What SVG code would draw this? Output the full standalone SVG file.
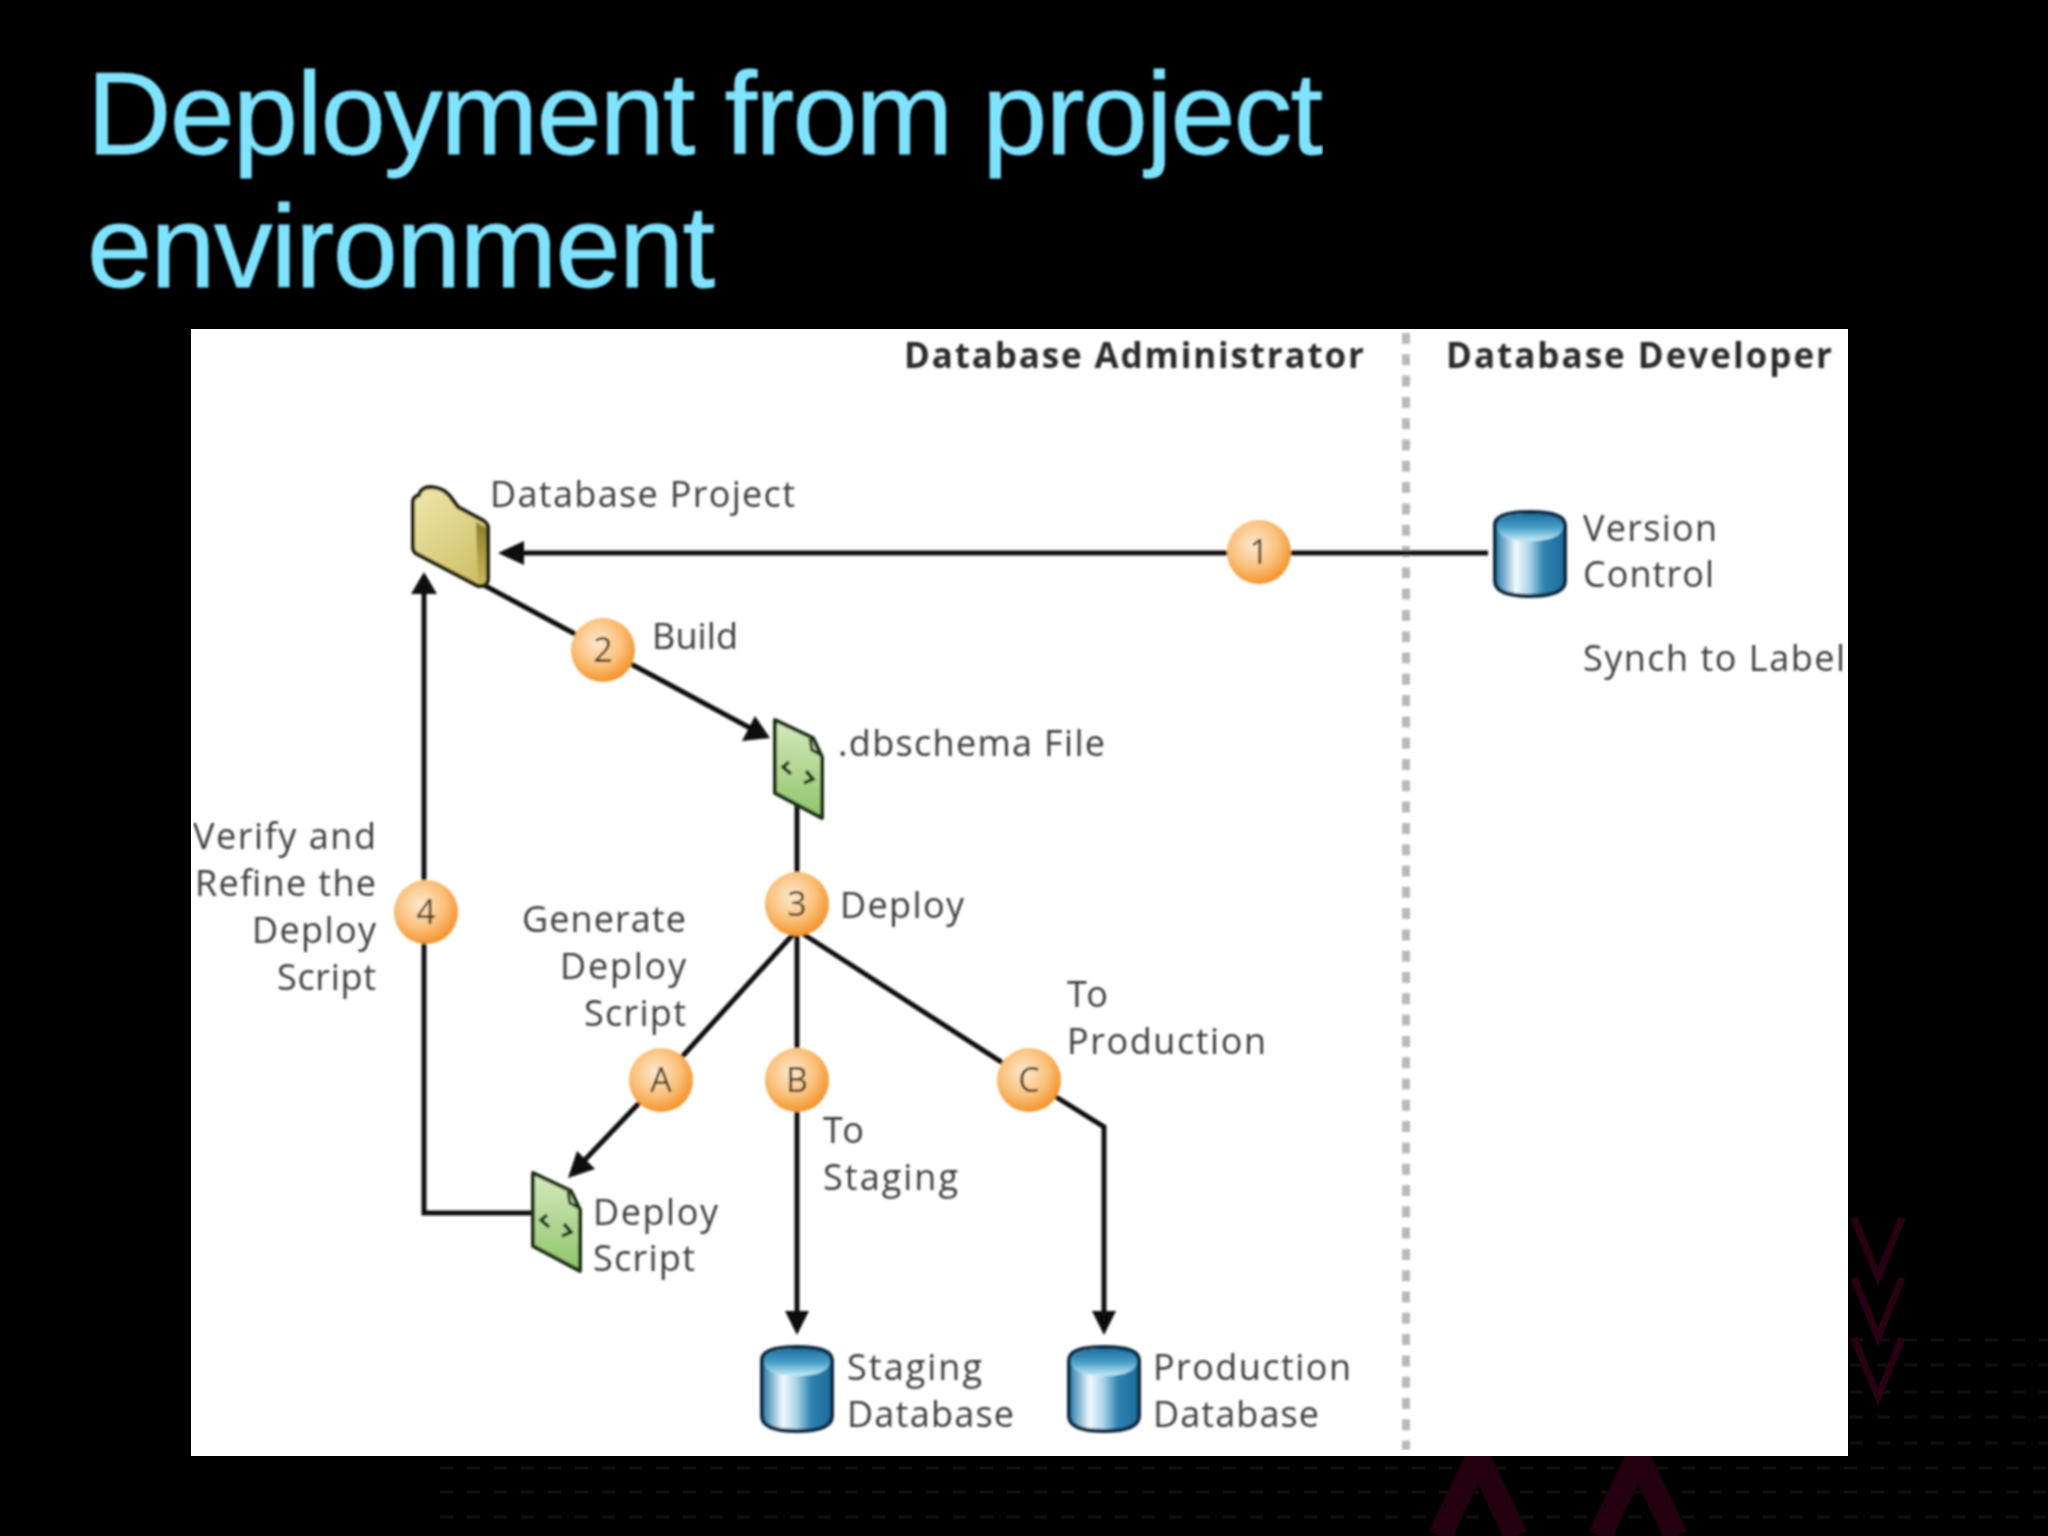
<svg xmlns="http://www.w3.org/2000/svg" width="2048" height="1536" viewBox="0 0 2048 1536">
<style>
.title{font-family:"Liberation Sans",Arial,sans-serif;font-size:117px;fill:#7fe3ff;stroke:#7fe3ff;stroke-width:.8}
.t{font-family:"Open Sans","Noto Sans",sans-serif;font-size:36px;fill:#3c3c3c}
.h{font-family:"Open Sans","Noto Sans",sans-serif;font-size:35px;font-weight:700;fill:#2a2a2a}
.n{font-family:"Open Sans","Noto Sans",sans-serif;font-size:34px;fill:#4a3418;text-anchor:middle}
.c{fill:none;stroke:#111;stroke-width:5}
.a{fill:#0a0a0a}
.v{fill:none;stroke:#2a0014;stroke-width:7}
.x{fill:none;stroke:#220010;stroke-width:24}
.g{stroke:#140f0b;stroke-width:3;stroke-dasharray:13 14}
.b{fill:url(#ball)}
</style>
<defs>
<filter id="soft" x="0" y="0" width="100%" height="100%"><feGaussianBlur stdDeviation=".8"/></filter>
<linearGradient id="cyl" x1="0" x2="1" y1="0" y2="0"><stop offset="0" stop-color="#2276a6"/><stop offset=".3" stop-color="#f2fafe"/><stop offset=".5" stop-color="#a6d0e6"/><stop offset=".7" stop-color="#2f83b2"/><stop offset="1" stop-color="#1d6a98"/></linearGradient>
<linearGradient id="top" x1="0" x2="0" y1="0" y2="1"><stop offset="0" stop-color="#1c6f9f"/><stop offset=".5" stop-color="#4a9fc8"/><stop offset="1" stop-color="#c4ecf8"/></linearGradient>
<radialGradient id="ball" cx=".42" cy=".38" r=".68"><stop offset="0" stop-color="#fde9cf"/><stop offset=".55" stop-color="#fbc07a"/><stop offset="1" stop-color="#f18a1c"/></radialGradient>
<linearGradient id="fold" x1="0" x2=".7" y1="0" y2="1"><stop offset="0" stop-color="#eee8b0"/><stop offset="1" stop-color="#d0c168"/></linearGradient>
<linearGradient id="fold2" x1="0" x2="0" y1="0" y2="1"><stop offset="0" stop-color="#8c7d2e"/><stop offset="1" stop-color="#c9b85a"/></linearGradient>
<linearGradient id="doc" x1="0" x2="0" y1="0" y2="1"><stop offset="0" stop-color="#d6e9bd"/><stop offset="1" stop-color="#8fc46a"/></linearGradient>
<g id="db">
<path d="M2 15C2 6 14 2 37 2S72 6 72 15V71C72 81 60 86 37 86S2 81 2 71Z" fill="url(#cyl)" stroke="#0c2c42" stroke-width="4"/>
<path d="M4 16C4 8 16 4 37 4S70 8 70 16C70 26 58 31 37 31S4 26 4 16Z" fill="url(#top)"/>
</g>
<g id="doc-icon">
<path d="M0 0L38 18 47 37V98L0 73Z" fill="url(#doc)" stroke="#1d3015" stroke-width="4" stroke-linejoin="round"/>
<path d="M35 19L37 30 46 35" fill="none" stroke="#1d3015" stroke-width="3"/>
<path d="M14 42L8 47 16 54M31 51L38 59 29 63" fill="none" stroke="#14300f" stroke-width="3.5"/>
</g>
</defs>
<rect width="2048" height="1536" fill="#000"/>
<g id="background">
<path class="g" d="M1850 1340H2048M1850 1365H2048M1850 1392H2048M1850 1417H2048M1850 1443H2048M440 1468H2048M440 1492H2048M440 1517H2048"/>
<path class="v" d="M1854 1218L1878 1277 1902 1218M1854 1278L1878 1337 1902 1278M1854 1338L1878 1397 1902 1338"/>
<path class="x" d="M1440 1536L1478 1456 1516 1536M1600 1536L1638 1456 1676 1536"/>
</g>
<g filter="url(#soft)">
<text class="title" x="87" y="154" textLength="1236">Deployment from project</text>
<text class="title" x="87" y="287" textLength="628">environment</text>
</g>
<rect x="191" y="329" width="1657" height="1127" fill="#fff"/>
<g filter="url(#soft)">
<line x1="1406" y1="333" x2="1406" y2="1450" stroke="#b9b9bb" stroke-width="8" stroke-dasharray="11 10.3"/>
<text class="h" x="904" y="368" textLength="460">Database Administrator</text>
<text class="h" x="1446" y="368" textLength="386">Database Developer</text>
<g id="connectors">
<path class="c" d="M1488 553H515"/><path class="a" d="M498 553L524 541V565Z"/>
<path class="c" d="M480 583L752 729"/><path class="a" d="M770 738L742 741 755 716Z"/>
<path class="c" d="M797 805V1318"/><path class="a" d="M797 1335L785 1311H809Z"/>
<path class="c" d="M797 930L661 1080 580 1165"/><path class="a" d="M568 1178L577 1151 595 1169Z"/>
<path class="c" d="M797 930L1029 1080 1104 1127V1318"/><path class="a" d="M1104 1335L1092 1311H1116Z"/>
<path class="c" d="M533 1213H424V590"/><path class="a" d="M424 572L437 594H411Z"/>
</g>
<g id="folder">
<path d="M413 502Q413 497 419 495 421 487 431 487 443 488 449 495L458 507 484 521Q488 524 488 528V578Q488 587 478 586L417 554Q413 552 413 547Z" fill="url(#fold)" stroke="#23200c" stroke-width="4" stroke-linejoin="round"/>
<path d="M476 522L486 528V578Q486 584 478 584Z" fill="url(#fold2)"/>
<text class="t" x="490" y="507" textLength="305">Database Project</text>
</g>
<g id="version-control"><use href="#db" x="1493" y="510"/><text class="t" x="1583" y="541" textLength="134">Version</text><text class="t" x="1583" y="587" textLength="131">Control</text><text class="t" x="1583" y="671" textLength="262">Synch to Label</text></g>
<g id="dbschema"><use href="#doc-icon" x="775" y="720"/><text class="t" x="838" y="756" textLength="267">.dbschema File</text></g>
<g id="deploy-script"><use href="#doc-icon" x="533" y="1173"/><text class="t" x="593" y="1225" textLength="125">Deploy</text><text class="t" x="593" y="1271" textLength="102">Script</text></g>
<g id="staging-db"><use href="#db" x="760" y="1345"/><text class="t" x="847" y="1380" textLength="135">Staging</text><text class="t" x="847" y="1427" textLength="167">Database</text></g>
<g id="production-db"><use href="#db" x="1067" y="1345"/><text class="t" x="1153" y="1380" textLength="198">Production</text><text class="t" x="1153" y="1427" textLength="166">Database</text></g>
<g id="step-1"><circle class="b" cx="1259" cy="552" r="32"/><text class="n" x="1259" y="564">1</text></g>
<g id="step-2"><circle class="b" cx="603" cy="650" r="32"/><text class="n" x="603" y="662">2</text><text class="t" x="652" y="649" textLength="86">Build</text></g>
<g id="step-3"><circle class="b" cx="797" cy="904" r="32"/><text class="n" x="797" y="916">3</text><text class="t" x="840" y="918" textLength="124">Deploy</text></g>
<g id="step-4"><circle class="b" cx="426" cy="912" r="32"/><text class="n" x="426" y="924">4</text>
<text class="t" x="193" y="849" textLength="183">Verify and</text><text class="t" x="195" y="896" textLength="181">Refine the</text><text class="t" x="252" y="943" textLength="124">Deploy</text><text class="t" x="277" y="990" textLength="99">Script</text></g>
<g id="step-a"><circle class="b" cx="661" cy="1080" r="32"/><text class="n" x="661" y="1092">A</text>
<text class="t" x="522" y="932" textLength="164">Generate</text><text class="t" x="560" y="979" textLength="126">Deploy</text><text class="t" x="584" y="1026" textLength="102">Script</text></g>
<g id="step-b"><circle class="b" cx="797" cy="1080" r="32"/><text class="n" x="797" y="1092">B</text>
<text class="t" x="823" y="1143" textLength="41">To</text><text class="t" x="823" y="1190" textLength="135">Staging</text></g>
<g id="step-c"><circle class="b" cx="1029" cy="1080" r="32"/><text class="n" x="1029" y="1092">C</text>
<text class="t" x="1067" y="1007" textLength="41">To</text><text class="t" x="1067" y="1054" textLength="199">Production</text></g>
</g>
</svg>
